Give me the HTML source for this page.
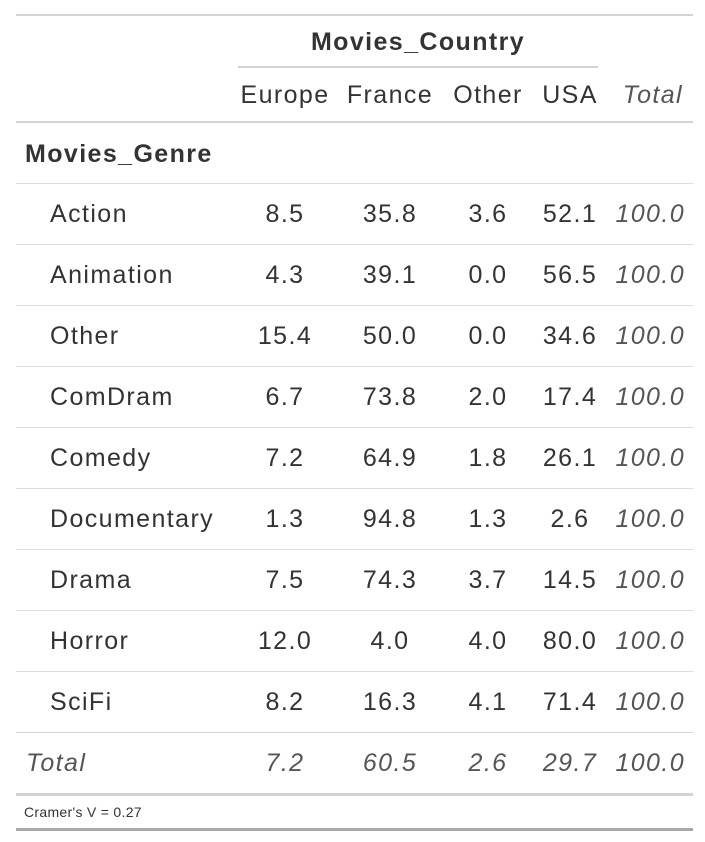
<!DOCTYPE html>
<html><head><meta charset="utf-8"><style>
body{margin:0;width:705px;height:842px;background:#fff;font-family:"Liberation Sans",sans-serif;color:#333;position:relative;overflow:hidden}
.t{position:absolute;white-space:nowrap;font-size:25px;line-height:30px;letter-spacing:1.4px}
.c{transform:translateX(-50%)}
.r{transform:translateX(-100%)}
.i{font-style:italic;color:#555}
.hl{position:absolute;left:16px;width:677px}
</style></head><body>
<div id="root"></div>
<script>
const genres=["Action","Animation","Other","ComDram","Comedy","Documentary","Drama","Horror","SciFi"];
const countries=["Europe","France","Other","USA"];
const europe=["8.5","4.3","15.4","6.7","7.2","1.3","7.5","12.0","8.2"];
const france=["35.8","39.1","50.0","73.8","64.9","94.8","74.3","4.0","16.3"];
const other=["3.6","0.0","0.0","2.0","1.8","1.3","3.7","4.0","4.1"];
const usa=["52.1","56.5","34.6","17.4","26.1","2.6","14.5","80.0","71.4"];
const rowTotals=["100.0","100.0","100.0","100.0","100.0","100.0","100.0","100.0","100.0"];
const colTotals=["7.2","60.5","2.6","29.7","100.0"];
const footnote="Cramer's V = 0.27";
const root=document.getElementById('root');
const colX=[285,390,488,570];
function txt(s,x,y,cls,name){const d=document.createElement('div');d.className='t '+cls;d.textContent=s;d.style.left=x+'px';d.style.top=(y-15)+'px';


root.appendChild(d);return d;}
function line(y,h,color,name,l,w){const d=document.createElement('div');d.className='hl';d.style.top=y+'px';d.style.height=h+'px';d.style.background=color;if(l!==undefined){d.style.left=l+'px';d.style.width=w+'px';}


root.appendChild(d);}
line(14,2,'#d3d3d3','top-border');
txt("Movies_Country",418,42,'c','column-spanner').style.fontWeight='bold';
line(66,2,'#d3d3d3','spanner-underline',238,360);
countries.forEach((c,j)=>txt(c,colX[j],95,'c','col-header-'+c.toLowerCase()));
txt("Total",683,95,'r i','col-header-total');
line(121,2,'#d3d3d3','header-border');
txt("Movies_Genre",25,154,'','row-group-label').style.fontWeight='bold';
const cols=[europe,france,other,usa];
genres.forEach((g,i)=>{const y=214+i*61;
line(y-31,1,'#dedede','row-border');
txt(g,50,y,'','row-label-'+g.toLowerCase());
cols.forEach((arr,j)=>txt(arr[i],colX[j],y,'c','cell'));
txt(rowTotals[i],685,y,'r i','row-total');
});
line(732,1,'#d3d3d3','total-border');
txt("Total",26,763,'i','total-row-label');
colTotals.forEach((v,j)=>txt(v,j<4?colX[j]:685,763,j<4?'c i':'r i','col-total'));
line(793,3,'#d3d3d3','footer-border');
const f=txt(footnote,24,812,'','footnote');f.style.fontSize='14px';f.style.letterSpacing='0.3px';
line(828,3,'#a8a8a8','bottom-border');
</script>
</body></html>
